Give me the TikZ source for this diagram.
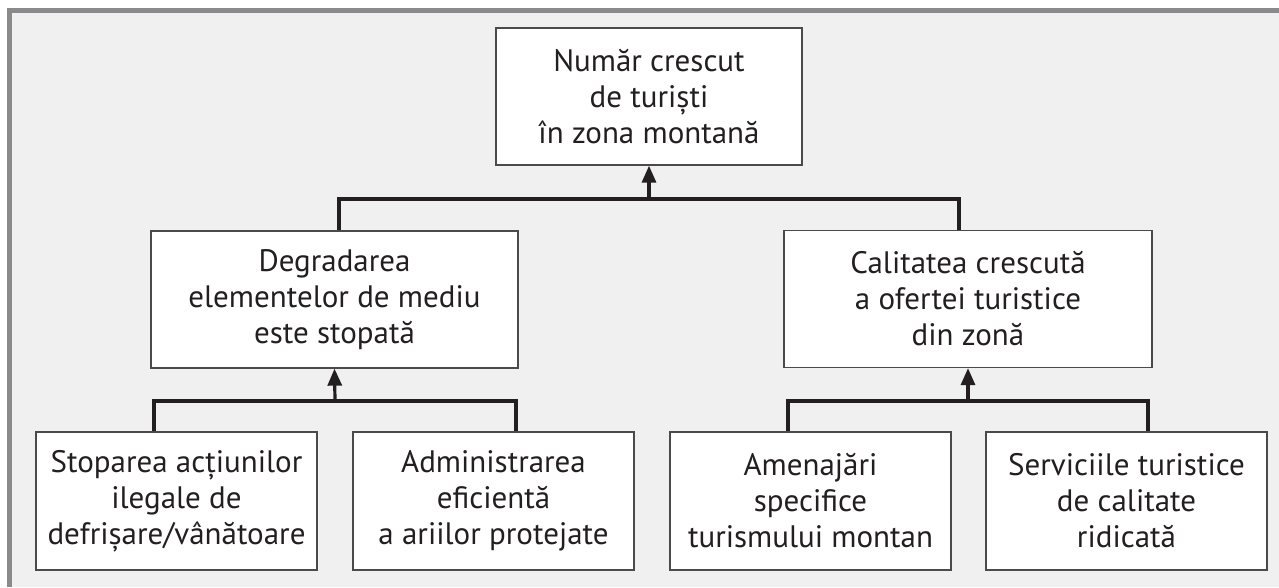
\documentclass[tikz,border=0pt]{standalone}
\usepackage{fontspec}
\setmainfont{PT Sans}
\usetikzlibrary{arrows.meta,calc}
\definecolor{framegray}{HTML}{8A8A8C}
\definecolor{bggray}{HTML}{F0F0F0}
\definecolor{boxline}{HTML}{4A4A4A}
\definecolor{conncol}{HTML}{231F20}
\tikzset{
  box/.style={draw=boxline, line width=1.3pt, fill=white, rectangle, align=center,
    inner sep=0pt, text=conncol, font=\fontsize{31}{36}\selectfont},
  conn/.style={draw=conncol, line width=3.6pt},
  uparrow/.style={draw=conncol, line width=3.2pt, -{Triangle[length=17pt,width=14pt]}}
}
\begin{document}
\begin{tikzpicture}[x=1pt,y=-1pt]
\useasboundingbox (0,0) rectangle (1279,587);
\fill[white] (0,0) rectangle (1279,587);
\fill[framegray] (7,8) rectangle (1279,587);
\fill[bggray] (12,13) rectangle (1279,587);

\node[box, minimum width=306pt, minimum height=137pt] (top) at (649,96.5)
  {Număr crescut\\de turiști\\în zona montană};
\node[box, minimum width=367pt, minimum height=137pt] (ml) at (334.5,299.5)
  {Degradarea\\elementelor de mediu\\este stopată};
\node[box, minimum width=368pt, minimum height=137pt] (mr) at (968,299)
  {Calitatea crescută\\a ofertei turistice\\din zonă};

\node[box, minimum width=281pt, minimum height=138pt] (b1) at (176.5,501)
  {Stoparea acțiunilor\\ilegale de\\defrișare/vânătoare};
\node[box, minimum width=281pt, minimum height=138pt] (b2) at (493.5,501)
  {Administrarea\\eficientă\\a ariilor protejate};
\node[box, minimum width=281pt, minimum height=138pt] (b3) at (810.5,501)
  {Amenajări\\specifice\\turismului montan};
\node[box, minimum width=281pt, minimum height=138pt] (b4) at (1126.5,501)
  {Serviciile turistice\\de calitate\\ridicată};

\coordinate (bustop) at (649,199);
\coordinate (busl) at (335,401);
\coordinate (busr) at (968,401);

\draw[conn] ([xshift=4.5pt]ml.north) |- (bustop) -| ([xshift=-9pt]mr.north);
\draw[uparrow] (bustop) -- (top.south);

\draw[conn] ([xshift=-22.5pt]b1.north) |- (busl) -| ([xshift=22.5pt]b2.north);
\draw[uparrow] (busl) -- (ml.south);

\draw[conn] ([xshift=-22.5pt]b3.north) |- (busr) -| ([xshift=21.5pt]b4.north);
\draw[uparrow] (busr) -- (mr.south);
\end{tikzpicture}
\end{document}
